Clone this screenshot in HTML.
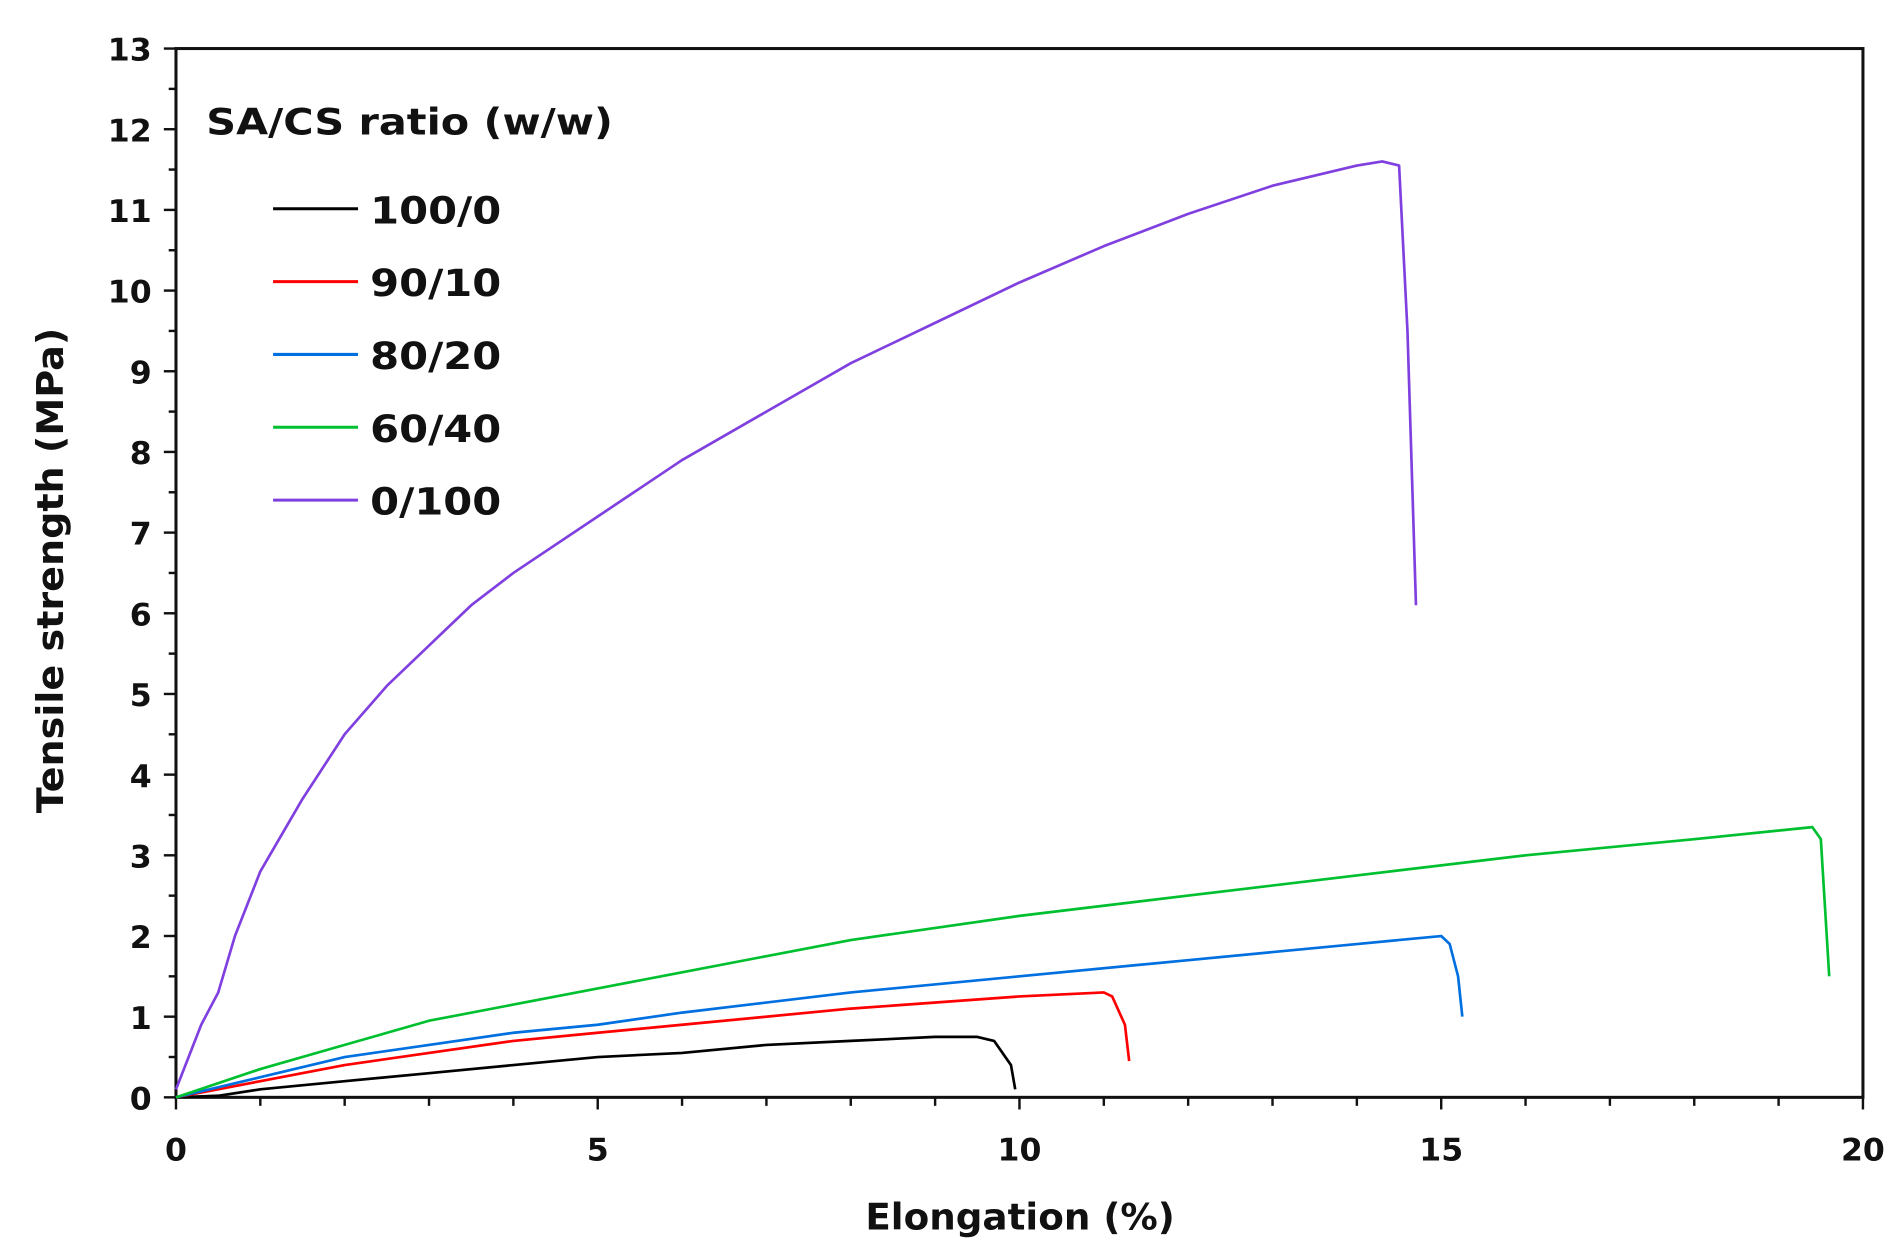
<!DOCTYPE html>
<html><head><meta charset="utf-8"><style>
html,body{margin:0;padding:0;background:#fff;}
svg{display:block;}
text{font-family:"DejaVu Sans","Liberation Sans",sans-serif;font-weight:bold;fill:#111;}
</style></head><body>
<svg id="chart" width="1903" height="1260" viewBox="0 0 1568 1038" preserveAspectRatio="none">
<g id="axes"></g>
<g id="series"></g>
<g id="legend"></g>
</svg>
<script>
const xTicks=[0,5,10,15,20];
const yTicks=[0,1,2,3,4,5,6,7,8,9,10,11,12,13];
const seriesNames=["100/0","90/10","80/20","60/40","0/100"];
const seriesColors=["#000000","#ff0000","#0070e0","#00c030","#8040e0"];
const x100_0=[0,0.5,1,2,3,4,5,6,7,8,9,9.5,9.7,9.9,9.95];
const y100_0=[0,0.02,0.1,0.2,0.3,0.4,0.5,0.55,0.65,0.7,0.75,0.75,0.7,0.4,0.1];
const x90_10=[0,1,2,3,4,5,6,8,10,11,11.1,11.25,11.3];
const y90_10=[0,0.2,0.4,0.55,0.7,0.8,0.9,1.1,1.25,1.3,1.25,0.9,0.45];
const x80_20=[0,1,2,3,4,5,6,8,10,12,14,15,15.1,15.2,15.25];
const y80_20=[0,0.25,0.5,0.65,0.8,0.9,1.05,1.3,1.5,1.7,1.9,2.0,1.9,1.5,1.0];
const x60_40=[0,1,2,3,4,5,6,7,8,10,12,14,16,18,19.4,19.5,19.6];
const y60_40=[0,0.35,0.65,0.95,1.15,1.35,1.55,1.75,1.95,2.25,2.5,2.75,3.0,3.2,3.35,3.2,1.5];
const x0_100=[0,0.3,0.5,0.7,1,1.5,2,2.5,3,3.5,4,5,6,7,8,9,10,11,12,13,14,14.3,14.5,14.6,14.7];
const y0_100=[0.1,0.9,1.3,2.0,2.8,3.7,4.5,5.1,5.6,6.1,6.5,7.2,7.9,8.5,9.1,9.6,10.1,10.55,10.95,11.3,11.55,11.6,11.55,9.5,6.1];
const allX=[x100_0,x90_10,x80_20,x60_40,x0_100];
const allY=[y100_0,y90_10,y80_20,y60_40,y0_100];

const L=145,R=1535,T=40,B=904;
const sx=v=>L+(v-0)/(20-0)*(R-L);
const sy=v=>B-(v-0)/(13-0)*(B-T);
const NS="http://www.w3.org/2000/svg";
function mk(tag,attrs,parent){const e=document.createElementNS(NS,tag);for(const k in attrs)e.setAttribute(k,attrs[k]);parent.appendChild(e);return e;}
const axes=document.getElementById('axes');
let frame=mk('rect',{x:L,y:T,width:R-L,height:B-T,fill:'none',stroke:'#111','stroke-width':2.5},axes);


for(let i=0;i<=20;i++){
  const len=(i%5===0)?10:7;
  let t=mk('line',{x1:sx(i),x2:sx(i),y1:B,y2:B+len,stroke:'#111','stroke-width':2},axes);
  
  
}
xTicks.forEach(v=>{
  let t=mk('text',{x:sx(v),y:B+52,'text-anchor':'middle','font-size':26},axes);
  t.textContent=v;
  
  
});
for(let i=0;i<=26;i++){
  const v=i/2;
  const len=(i%2===0)?10:6;
  let t=mk('line',{x1:L-len,x2:L,y1:sy(v),y2:sy(v),stroke:'#111','stroke-width':2},axes);
  
  
}
yTicks.forEach(v=>{
  let t=mk('text',{x:L-20,y:sy(v)+10,'text-anchor':'end','font-size':26},axes);
  t.textContent=v;
  
  
});
let xt=mk('text',{x:713,y:1013,'font-size':30,textLength:255,lengthAdjust:'spacingAndGlyphs'},axes);
xt.textContent='Elongation (%)';


let yt=mk('text',{x:-670,y:52,'font-size':30,transform:'rotate(-90)',textLength:400,lengthAdjust:'spacingAndGlyphs'},axes);
yt.textContent='Tensile strength (MPa)';



const ser=document.getElementById('series');
allX.forEach((xs,i)=>{
  const d=xs.map((x,j)=>(j?'L':'M')+sx(x).toFixed(1)+','+sy(allY[i][j]).toFixed(1)).join(' ');
  let p=mk('path',{d:d,fill:'none',stroke:seriesColors[i],'stroke-width':2.2,'stroke-linejoin':'round'},ser);
  
  
});

const lg=document.getElementById('legend');
let lt=mk('text',{x:170,y:111,'font-size':30,textLength:335,lengthAdjust:'spacingAndGlyphs'},lg);
lt.textContent='SA/CS ratio (w/w)';


seriesNames.forEach((n,i)=>{
  const y=172+i*60;
  let l=mk('line',{x1:225,x2:295,y1:y,y2:y,stroke:seriesColors[i],'stroke-width':2.5},lg);
  
  
  let t=mk('text',{x:305,y:y+12,'font-size':31,textLength:108,lengthAdjust:'spacingAndGlyphs'},lg);
  t.textContent=n;
  
  
});
</script>
</body></html>
